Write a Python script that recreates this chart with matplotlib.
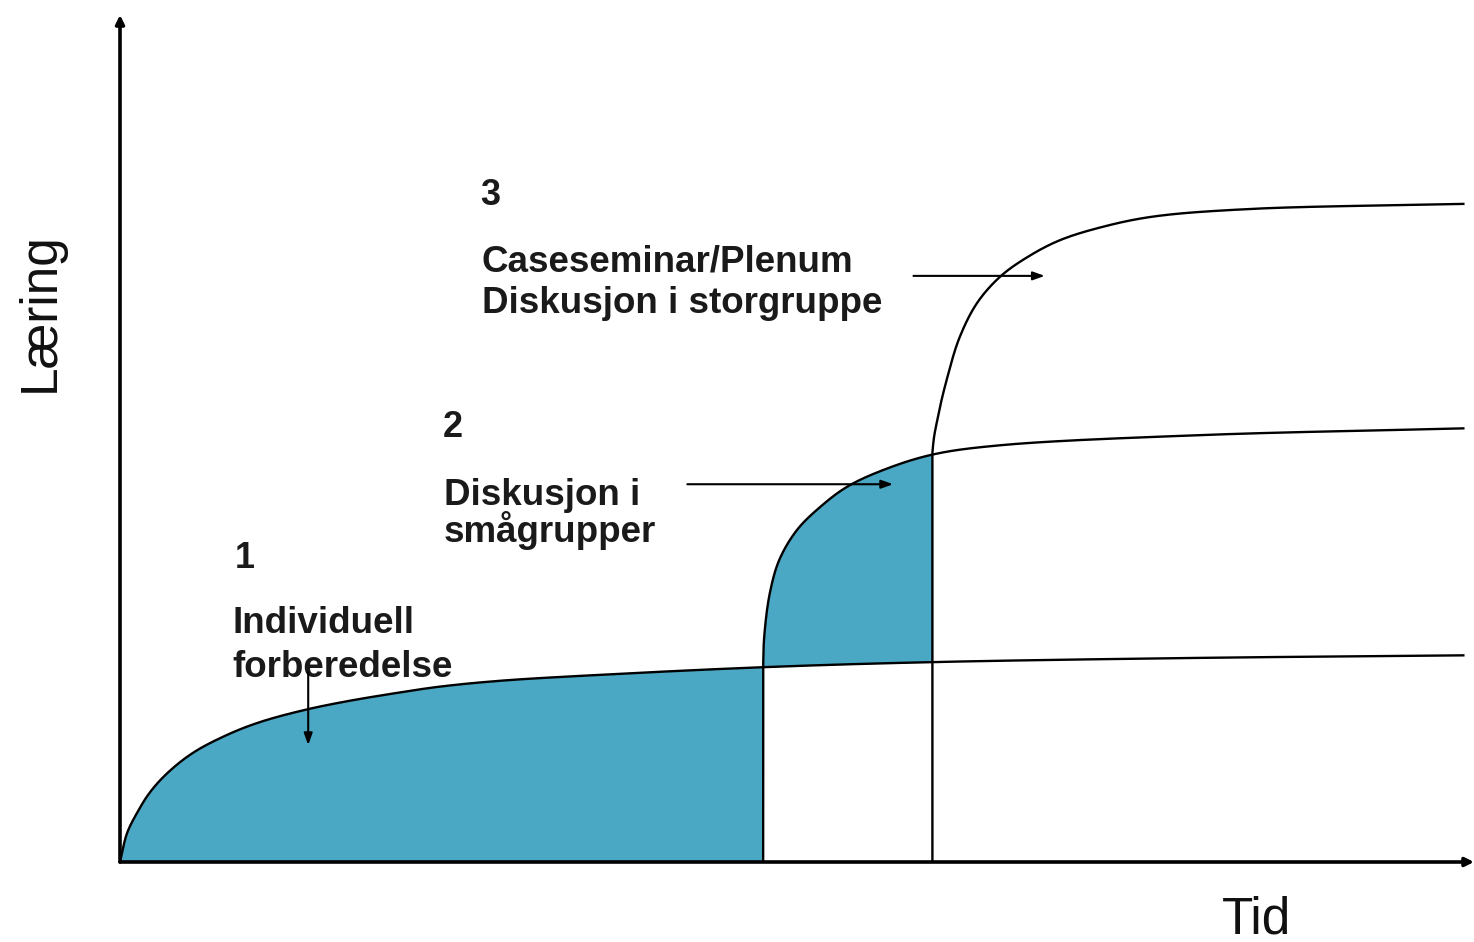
import numpy as np
import matplotlib
matplotlib.use("Agg")
import matplotlib.pyplot as plt

# ---- data (Tid, Læring) ----
t1 = [0.0, 0.052, 0.126, 0.22, 0.35, 0.54, 0.79, 1.03, 1.35, 1.65, 2.02, 2.36, 2.81, 3.55, 4.75, 6.00, 7.98, 9.93]
l1 = [0.0, 0.34, 0.58, 0.82, 1.05, 1.29, 1.50, 1.65, 1.79, 1.89, 1.99, 2.07, 2.14, 2.21, 2.30, 2.36, 2.41, 2.44]

t2 = [4.75, 4.75, 4.76, 4.80, 4.87, 5.00, 5.17, 5.37, 5.64, 6.00, 6.50, 7.98, 9.93]
l2 = [0.0, 2.30, 2.70, 3.18, 3.57, 3.92, 4.19, 4.43, 4.63, 4.81, 4.92, 5.04, 5.12]

t3 = [6.00, 6.00, 6.04, 6.11, 6.20, 6.33, 6.50, 6.70, 6.94, 7.26, 7.63, 8.35, 9.93]
l3 = [0.0, 4.83, 5.25, 5.72, 6.19, 6.60, 6.91, 7.14, 7.34, 7.50, 7.62, 7.71, 7.77]

phase_start = [0.0, 4.75, 6.00]
phase_numbers = ["1", "2", "3"]
phase_labels = [["Individuell", "forberedelse"],
                ["Diskusjon i", "smågrupper"],
                ["Caseseminar/Plenum", "Diskusjon i storgruppe"]]

FILL = "#4AA8C4"
FONT = "Liberation Sans"
SCALE = np.array([135.4, 84.7])  # approx px per data unit, for smooth drawing


def smooth_line(xs, ys, n=30, alpha=0.5, straight_first=False):
    """Centripetal Catmull-Rom rendering through the given points."""
    P = np.column_stack([xs, ys]) * SCALE
    P = np.vstack([2 * P[0] - P[1], P, 2 * P[-1] - P[-2]])
    out = []
    for i in range(1, len(P) - 2):
        p0, p1, p2, p3 = P[i - 1], P[i], P[i + 1], P[i + 2]
        if i == 1 and straight_first:
            out.append(np.vstack([p1, p2]))
            continue
        s0 = 0.0
        s1 = s0 + np.linalg.norm(p1 - p0) ** alpha
        s2 = s1 + np.linalg.norm(p2 - p1) ** alpha
        s3 = s2 + np.linalg.norm(p3 - p2) ** alpha
        s = np.linspace(s1, s2, n)[:, None]
        A1 = (s1 - s) / (s1 - s0) * p0 + (s - s0) / (s1 - s0) * p1
        A2 = (s2 - s) / (s2 - s1) * p1 + (s - s1) / (s2 - s1) * p2
        A3 = (s3 - s) / (s3 - s2) * p2 + (s - s2) / (s3 - s2) * p3
        B1 = (s2 - s) / (s2 - s0) * A1 + (s - s0) / (s2 - s0) * A2
        B2 = (s3 - s) / (s3 - s1) * A2 + (s - s1) / (s3 - s1) * A3
        C = (s2 - s) / (s2 - s1) * B1 + (s - s1) / (s2 - s1) * B2
        out.append(C if i == 1 else C[1:])
    Q = np.vstack(out) / SCALE
    return Q[:, 0], Q[:, 1]


fig = plt.figure(figsize=(14.74, 9.42), dpi=100)
ax = fig.add_axes([120 / 1474, 80 / 942, 1354 / 1474, 847 / 942])
ax.set_xlim(0, 10)
ax.set_ylim(0, 10)
ax.axis("off")

c1x, c1y = smooth_line(t1, l1)
c2x, c2y = smooth_line(t2, l2, straight_first=True)
c3x, c3y = smooth_line(t3, l3, straight_first=True)

# filled areas
m1 = c1x <= phase_start[1]
ax.fill_between(np.append(c1x[m1], phase_start[1]), 0,
                np.append(c1y[m1], np.interp(phase_start[1], c1x, c1y)),
                color=FILL, lw=0, zorder=1)
upper = c2y >= l2[1]
ux, uy = c2x[upper], c2y[upper]
m2 = ux <= phase_start[2]
fx = np.append(ux[m2], phase_start[2])
fy = np.append(uy[m2], np.interp(phase_start[2], ux, uy))
ax.fill_between(fx, np.interp(fx, c1x, c1y), fy, color=FILL, lw=0, zorder=1)

# curves
for cx, cy in [(c1x, c1y), (c2x, c2y), (c3x, c3y)]:
    ax.plot(cx, cy, color="black", lw=1.7, zorder=3, solid_capstyle="butt")

# axes arrows
for tip in [(0, 1.0), (1.0, 0)]:
    ax.annotate("", xy=tip, xytext=(0, 0), xycoords="axes fraction",
                arrowprops=dict(arrowstyle="-|>,head_length=0.5,head_width=0.25",
                                color="black", lw=2.6, shrinkA=0, shrinkB=0), zorder=4)

# phase texts
num_pos = [(0.85, 3.47), (2.38, 5.02), (2.66, 7.76)]
lab_pos = [[(0.83, 2.70), (0.83, 2.18)],
           [(2.39, 4.21), (2.39, 3.78)],
           [(2.67, 6.97), (2.67, 6.48)]]
tc = "#1a1a1a"
for i in range(3):
    ax.text(num_pos[i][0], num_pos[i][1], phase_numbers[i], fontsize=26,
            fontweight="bold", family=FONT, color=tc, va="baseline", ha="left")
    for (x, y), s in zip(lab_pos[i], phase_labels[i]):
        ax.text(x, y, s, fontsize=26.5, fontweight="bold", family=FONT,
                color=tc, va="baseline", ha="left")

# pointer arrows
arrows = [((1.39, 2.24), (1.39, 1.38)),
          ((4.19, 4.46), (5.71, 4.46)),
          ((5.86, 6.92), (6.83, 6.92))]
for start, end in arrows:
    ax.annotate("", xy=end, xytext=start,
                arrowprops=dict(arrowstyle="-|>,head_length=0.7,head_width=0.25",
                                color="black", lw=1.5, shrinkA=0, shrinkB=0), zorder=5)

# axis labels
fig.text(40 / 1474, 1 - 312 / 942, "Læring", rotation=90, fontsize=37,
         family=FONT, ha="center", va="center", color="#111111")
fig.text(1222 / 1474, 1 - 933 / 942, "Tid", fontsize=37, family=FONT,
         ha="left", va="baseline", color="#111111")

fig.savefig("out.png", dpi=100, facecolor="white")
